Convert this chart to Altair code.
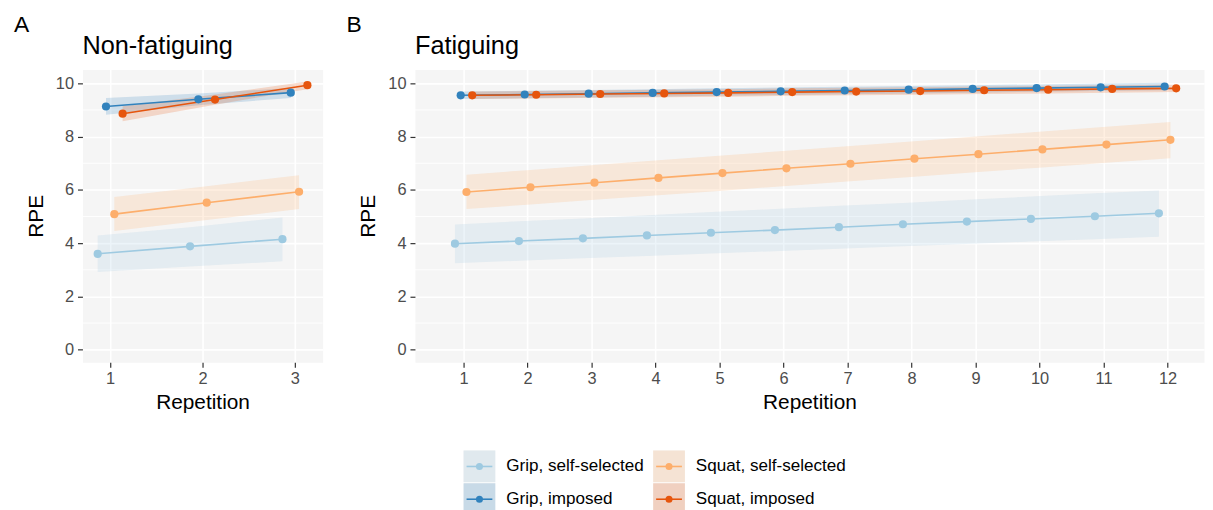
import altair as alt
import pandas as pd

FONT = "Liberation Sans"

series_names = ["Grip, self-selected", "Grip, imposed", "Squat, self-selected", "Squat, imposed"]
series_colors = ["#9ecae1", "#3182bd", "#fdae6b", "#e6550d"]
dodge = [-0.135, -0.045, 0.045, 0.135]

# ---- Non-fatiguing (panel A) ----
reps_nonfat = [1, 2, 3]
nf_grip_self = [3.60, 3.88, 4.15]
nf_grip_self_lo = [2.92, 3.12, 3.32]
nf_grip_self_hi = [4.29, 4.60, 4.96]
nf_grip_imp = [9.13, 9.40, 9.65]
nf_grip_imp_lo = [8.82, 9.18, 9.45]
nf_grip_imp_hi = [9.45, 9.62, 9.82]
nf_squat_self = [5.09, 5.52, 5.93]
nf_squat_self_lo = [4.46, 4.87, 5.28]
nf_squat_self_hi = [5.73, 6.14, 6.55]
nf_squat_imp = [8.86, 9.39, 9.93]
nf_squat_imp_lo = [8.58, 9.20, 9.78]
nf_squat_imp_hi = [9.14, 9.58, 10.07]

# ---- Fatiguing (panel B) ----
reps_fat = [1, 2, 3, 4, 5, 6, 7, 8, 9, 10, 11, 12]
f_grip_self = [3.98, 4.08, 4.18, 4.29, 4.39, 4.49, 4.60, 4.71, 4.81, 4.91, 5.01, 5.12]
f_grip_self_lo = [3.25, 3.34, 3.43, 3.52, 3.61, 3.70, 3.79, 3.88, 3.97, 4.06, 4.15, 4.24]
f_grip_self_hi = [4.70, 4.82, 4.93, 5.05, 5.17, 5.28, 5.40, 5.51, 5.63, 5.75, 5.87, 5.98]
f_grip_imp = [9.55, 9.58, 9.61, 9.64, 9.67, 9.70, 9.73, 9.76, 9.79, 9.82, 9.85, 9.88]
f_grip_imp_lo = [9.41, 9.44, 9.47, 9.50, 9.53, 9.56, 9.59, 9.62, 9.65, 9.68, 9.71, 9.74]
f_grip_imp_hi = [9.69, 9.72, 9.75, 9.78, 9.81, 9.84, 9.87, 9.90, 9.93, 9.96, 9.99, 10.02]
f_squat_self = [5.92, 6.10, 6.27, 6.45, 6.63, 6.81, 6.98, 7.17, 7.34, 7.52, 7.70, 7.88]
f_squat_self_lo = [5.28, 5.45, 5.63, 5.80, 5.97, 6.15, 6.32, 6.49, 6.67, 6.84, 7.02, 7.19]
f_squat_self_hi = [6.57, 6.75, 6.93, 7.11, 7.29, 7.47, 7.65, 7.83, 8.01, 8.19, 8.37, 8.55]
f_squat_imp = [9.55, 9.57, 9.60, 9.62, 9.64, 9.67, 9.69, 9.71, 9.74, 9.76, 9.79, 9.81]
f_squat_imp_lo = [9.41, 9.43, 9.46, 9.48, 9.50, 9.53, 9.55, 9.57, 9.60, 9.62, 9.65, 9.67]
f_squat_imp_hi = [9.69, 9.71, 9.74, 9.76, 9.78, 9.81, 9.83, 9.85, 9.88, 9.90, 9.93, 9.95]

y_ticks = [0, 2, 4, 6, 8, 10]
y_minor = [1, 3, 5, 7, 9]
y_domain = [-0.47, 10.52]


def build_df(reps, groups):
    rows = []
    for k, (name, (m, lo, hi)) in enumerate(zip(series_names, groups)):
        for i, r in enumerate(reps):
            rows.append({"series": name, "rep": r, "x": r + dodge[k],
                         "y": m[i], "lo": lo[i], "hi": hi[i]})
    return pd.DataFrame(rows)


df_nf = build_df(reps_nonfat, [
    (nf_grip_self, nf_grip_self_lo, nf_grip_self_hi),
    (nf_grip_imp, nf_grip_imp_lo, nf_grip_imp_hi),
    (nf_squat_self, nf_squat_self_lo, nf_squat_self_hi),
    (nf_squat_imp, nf_squat_imp_lo, nf_squat_imp_hi),
])
df_f = build_df(reps_fat, [
    (f_grip_self, f_grip_self_lo, f_grip_self_hi),
    (f_grip_imp, f_grip_imp_lo, f_grip_imp_hi),
    (f_squat_self, f_squat_self_lo, f_squat_self_hi),
    (f_squat_imp, f_squat_imp_lo, f_squat_imp_hi),
])

color_scale = alt.Scale(domain=series_names, range=series_colors)


def panel(df, title, tag, xdomain, xticks, width):
    xs = alt.Scale(domain=xdomain, nice=False, zero=False)
    ys = alt.Scale(domain=y_domain, nice=False, zero=False)
    xax = alt.Axis(values=xticks, title="Repetition", format="d")
    yax = alt.Axis(values=y_ticks, title="RPE", format="d")
    col = alt.Color("series:N", scale=color_scale, legend=None)
    base = alt.Chart(df)

    minor = alt.Chart(pd.DataFrame({"y": y_minor})).mark_rule(
        color="white", strokeWidth=0.9
    ).encode(y=alt.Y("y:Q", scale=ys, axis=yax))

    ribbon = base.mark_area(opacity=0.2).encode(
        x=alt.X("x:Q", scale=xs, axis=xax),
        y=alt.Y("lo:Q", scale=ys, axis=yax),
        y2="hi:Q",
        color=col,
    )
    line = base.mark_line(strokeWidth=1.6).encode(
        x=alt.X("x:Q", scale=xs, axis=xax),
        y=alt.Y("y:Q", scale=ys, axis=yax),
        color=col,
    )
    pts = base.mark_circle(size=68, opacity=1).encode(
        x=alt.X("x:Q", scale=xs, axis=xax),
        y=alt.Y("y:Q", scale=ys, axis=yax),
        color=col,
    )
    txt_df = pd.DataFrame({"t": [tag]})
    tag_txt = alt.Chart(txt_df).mark_text(
        align="left", baseline="alphabetic", fontSize=23, font=FONT, color="black"
    ).encode(text="t:N", x=alt.value(-69), y=alt.value(-38))
    title_txt = alt.Chart(pd.DataFrame({"t": [title]})).mark_text(
        align="left", baseline="alphabetic", fontSize=25.5, font=FONT, color="black"
    ).encode(text="t:N", x=alt.value(0), y=alt.value(-16))

    return alt.layer(minor, ribbon, line, pts, tag_txt, title_txt).properties(
        width=width, height=295,
    )


pA = panel(df_nf, "Non-fatiguing", "A", [0.70, 3.30], reps_nonfat, 242)
pB = panel(df_f, "Fatiguing", "B", [0.24, 12.57], reps_fat, 795)

# ---- legend ----
leg_df = pd.DataFrame({
    "series": series_names,
    "col": [0, 0, 1, 1],
    "row": [0, 1, 0, 1],
})
lx = alt.X("col:Q", scale=alt.Scale(domain=[0, 1], range=[400, 591]), axis=None)
ly = alt.Y("row:Q", scale=alt.Scale(domain=[0, 1], range=[20, 53]), axis=None)
lcol = alt.Color("series:N", scale=color_scale, legend=None)
lbase = alt.Chart(leg_df)
leg_bg = lbase.mark_square(size=1024, color="#f2f2f2", opacity=1).encode(x=lx, y=ly)
leg_tint = lbase.mark_square(size=1024, opacity=0.22).encode(x=lx, y=ly, color=lcol)
leg_line = lbase.mark_point(shape="M-1,0H1", size=676, filled=False, strokeWidth=1.6,
                            opacity=1).encode(x=lx, y=ly, color=lcol)
leg_dot = lbase.mark_circle(size=50, opacity=1).encode(x=lx, y=ly, color=lcol)
leg_txt = lbase.mark_text(align="left", baseline="middle", dx=27, fontSize=17.2,
                          font=FONT, color="black").encode(x=lx, y=ly, text="series:N")
legend = alt.layer(leg_bg, leg_tint, leg_line, leg_dot, leg_txt).properties(
    width=700, height=70, view=alt.ViewBackground(fill="white", stroke="transparent")
)

chart = alt.vconcat(
    alt.hconcat(pA, pB, spacing=22),
    legend,
    spacing=33,
).properties(
    padding={"left": 5, "top": 3, "right": 0, "bottom": 0}
).configure(
    font=FONT
).configure_view(
    fill="#f5f5f5", stroke="transparent"
).configure_axis(
    grid=True, gridColor="white", gridWidth=1.6,
    domain=False, tickColor="#333333", tickSize=5, tickWidth=1.2,
    labelFont=FONT, labelFontSize=16.5, labelColor="#4d4d4d",
    titleFont=FONT, titleFontSize=21, titleFontWeight="normal", titleColor="black",
).configure_axisX(
    labelPadding=3, titlePadding=5,
).configure_axisY(
    labelPadding=4, titlePadding=9,
)

chart.save("out.html", embed_options={"renderer": "svg", "actions": False})
